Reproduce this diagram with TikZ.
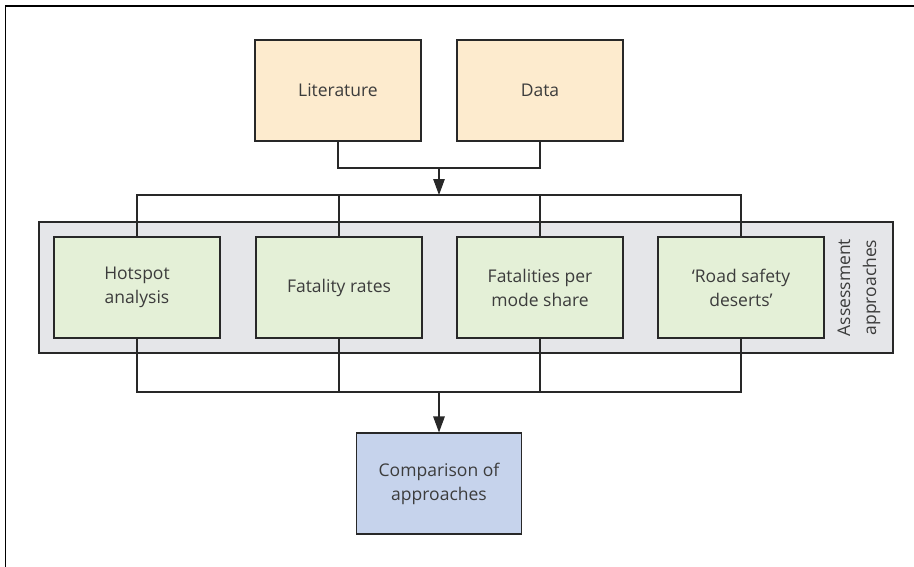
\documentclass[tikz,border=0pt]{standalone}
\usepackage{fontspec}
\setmainfont{Open Sans}
\usetikzlibrary{arrows.meta}
\definecolor{peach}{RGB}{253,235,206}
\definecolor{leaf}{RGB}{228,240,215}
\definecolor{band}{RGB}{229,230,233}
\definecolor{sky}{RGB}{198,211,236}
\definecolor{edge}{RGB}{40,40,40}
\definecolor{txt}{RGB}{60,60,60}
\begin{document}
\begin{tikzpicture}[x=1pt,y=-1pt,
  box/.style={draw=edge, line width=1.1pt, minimum width=166pt, minimum height=101pt,
    inner sep=0pt, align=center, text=txt, font=\fontsize{17.5}{24}\selectfont},
  conn/.style={draw=edge, line width=1.1pt},
  arr/.style={conn, -{Triangle[length=16pt,width=11.5pt]}}]
\useasboundingbox (0,0) rectangle (914,566);
% outer frame (only top and left edges visible)
\draw[line width=1.5pt, black] (5.5,575) -- (5.5,6) -- (925,6);
% band
\node[draw=edge, line width=1.1pt, fill=band, minimum width=854pt, minimum height=131pt, inner sep=0pt] (band) at (466,287.5) {};
\node[rotate=90, align=center, text=txt, font=\fontsize{17.5}{26}\selectfont] (bandlabel) at (859,287.5) {Assessment\\approaches};
% top boxes
\node[box, fill=peach] (lit) at (338,90.5) {Literature};
\node[box, fill=peach] (data) at (540,90.5) {Data};
% approaches
\node[box, fill=leaf] (hot) at (137,287.5) {Hotspot\\analysis};
\node[box, fill=leaf] (fat) at (339,287.5) {Fatality rates};
\node[box, fill=leaf] (mode) at (540,287.5) {Fatalities per\\mode share};
\node[box, fill=leaf] (des) at (741,287.5) {‘Road safety\\deserts’};
% bottom box
\node[box, fill=sky, minimum width=165pt] (comp) at (439,483.5) {Comparison of\\approaches};
% junction coordinates
\coordinate (j1) at (439,168);
\coordinate (t) at (439,195);
\coordinate (b) at (439,392);
% connectors top
\draw[conn] (lit.south) -- (lit.south |- j1) -- (data.south |- j1) -- (data.south);
\draw[arr] (j1) -- (t);
\draw[conn] (hot.north) -- (hot.north |- t) -- (des.north |- t) -- (des.north);
\draw[conn] (fat.north) -- (fat.north |- t);
\draw[conn] (mode.north) -- (mode.north |- t);
% connectors bottom
\draw[conn] (hot.south) -- (hot.south |- b) -- (des.south |- b) -- (des.south);
\draw[conn] (fat.south) -- (fat.south |- b);
\draw[conn] (mode.south) -- (mode.south |- b);
\draw[arr] (b) -- (comp.north);
\end{tikzpicture}
\end{document}
